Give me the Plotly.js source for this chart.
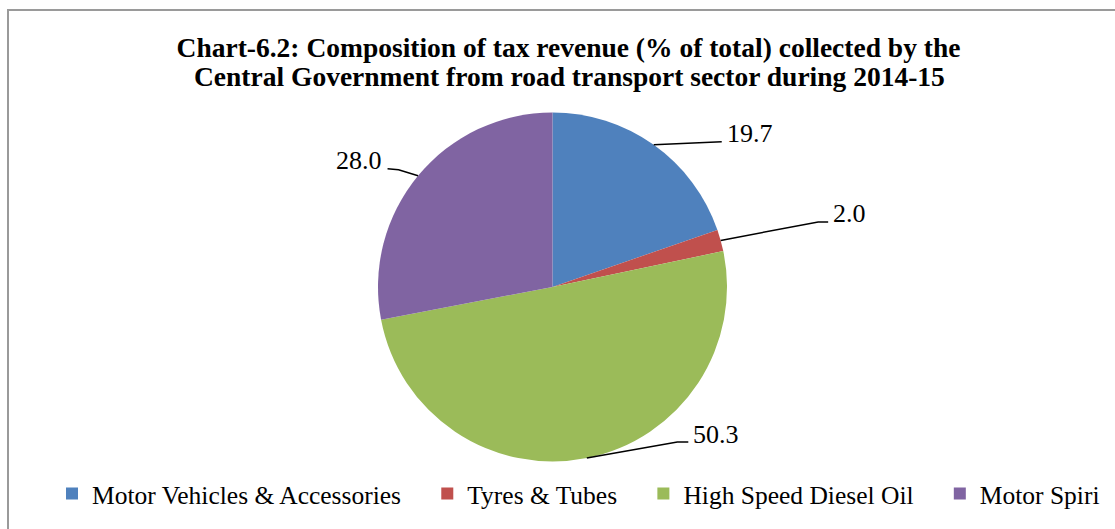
<!DOCTYPE html>
<html>
<head>
<meta charset="utf-8">
<script src="https://cdn.plot.ly/plotly-3.0.1.min.js"></script>
<style>
  html, body { margin: 0; padding: 0; background: #ffffff; }
  #chart { width: 1115px; height: 529px; }
</style>
</head>
<body>
<div id="chart"></div>
<script>
// ---- data ----
var categories = ["Motor Vehicles & Accessories", "Tyres & Tubes", "High Speed Diesel Oil", "Motor Spiri"];
var shares = [19.7, 2.0, 50.3, 28.0];
var valueLabels = ["19.7", "2.0", "50.3", "28.0"];
var sliceColors = ["#4F81BD", "#C0504D", "#9BBB59", "#8064A2"];
var titleLines = [
  "Chart-6.2: Composition of tax revenue (% of total) collected by the",
  "Central Government from road transport sector during 2014-15"
];

// ---- layout styling (pixels) ----
var W = 1115, H = 529;
var pieCx = 552.5, pieCy = 287, pieR = 174.5;
// leader-line bends relative to the slice's outer mid-point: [elbow dx, elbow dy, end dx, end dy]
var leaderBends = [
  [68, -3, 68, -3],
  [97.5, -18.5, 107.5, -18.5],
  [90.5, -16, 101.5, -16],
  [-19.5, -6, -30.5, -7]
];
var font = "Liberation Serif, Times New Roman, serif";

function px2x(px) { return px / W; }
function py2y(py) { return 1 - py / H; }

var total = shares.reduce(function (a, b) { return a + b; }, 0);
var shapes = [];
var annotations = [];
var cum = 0;
shares.forEach(function (v, i) {
  var mid = (cum + v / 2) / total * 2 * Math.PI; // clockwise from 12 o'clock
  cum += v;
  var ex = pieCx + pieR * Math.sin(mid);
  var ey = pieCy - pieR * Math.cos(mid);
  var b = leaderBends[i];
  var bx = ex + b[0], by = ey + b[1];
  var tx = ex + b[2], ty = ey + b[3];
  shapes.push({
    type: "path", xref: "paper", yref: "paper",
    path: "M " + px2x(ex) + " " + py2y(ey) + " L " + px2x(bx) + " " + py2y(by) + " L " + px2x(tx) + " " + py2y(ty),
    line: { color: "#000000", width: 1.5 }
  });
  var left = b[2] >= 0;
  annotations.push({
    xref: "paper", yref: "paper",
    x: px2x(tx), y: py2y(ty),
    xanchor: left ? "left" : "right", yanchor: "middle",
    xshift: left ? 3 : -4, yshift: 8,
    text: valueLabels[i], showarrow: false,
    font: { family: font, size: 26, color: "#000000" }
  });
});

// second title line (Excel-style tight line spacing)
annotations.push({
  xref: "paper", yref: "paper",
  x: px2x(569), y: py2y(76), xanchor: "center", yanchor: "middle",
  text: titleLines[1], showarrow: false,
  font: { family: font, size: 27.5, color: "#000000", weight: "bold" }
});

// chart frame
shapes.push({
  type: "rect", xref: "paper", yref: "paper",
  x0: px2x(8), x1: 1.02, y0: -0.02, y1: py2y(10),
  line: { color: "#9a9a9a", width: 2 }, fillcolor: "rgba(0,0,0,0)"
});

// extra spacing after legend entries (Excel-like gaps)
var legendPad = "\u00a0\u00a0\u00a0\u200a";

var trace = {
  type: "pie",
  labels: categories.map(function (c, i) { return i < categories.length - 1 ? c + legendPad : c; }),
  values: shares,
  sort: false,
  direction: "clockwise",
  rotation: 0,
  textinfo: "none",
  hoverinfo: "label+value",
  marker: { colors: sliceColors, line: { width: 0 } },
  domain: {
    x: [px2x(pieCx - pieR), px2x(pieCx + pieR)],
    y: [py2y(pieCy + pieR), py2y(pieCy - pieR)]
  }
};

var layout = {
  width: W, height: H,
  margin: { l: 0, r: 0, t: 0, b: 0 },
  paper_bgcolor: "#ffffff",
  plot_bgcolor: "#ffffff",
  title: {
    text: titleLines[0],
    font: { family: font, size: 27.5, color: "#000000", weight: "bold" },
    x: px2x(568.5), xanchor: "center",
    y: py2y(47.5), yanchor: "middle", yref: "container"
  },
  showlegend: true,
  legend: {
    orientation: "h",
    x: px2x(52), xanchor: "left",
    y: py2y(494), yanchor: "middle",
    font: { family: font, size: 25.5, color: "#000000" },
    itemwidth: 30,
    bgcolor: "rgba(0,0,0,0)"
  },
  shapes: shapes,
  annotations: annotations
};

Plotly.newPlot("chart", [trace], layout, { displayModeBar: false, staticPlot: true });
</script>
</body>
</html>
